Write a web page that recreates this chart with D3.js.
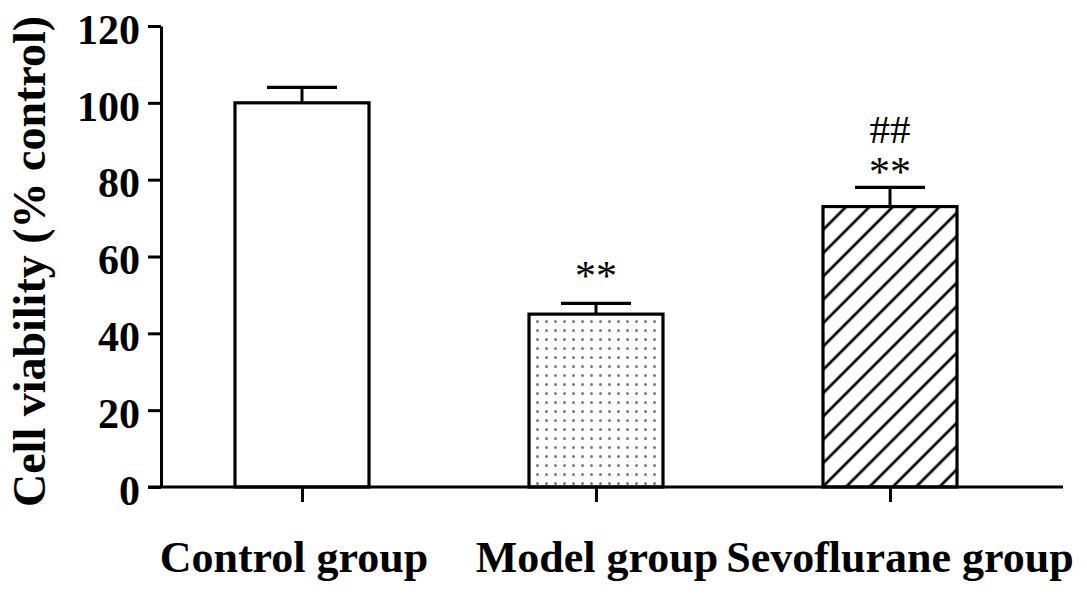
<!DOCTYPE html>
<html>
<head>
<meta charset="utf-8">
<script src="https://cdn.jsdelivr.net/npm/d3@7"></script>
<style>
  html, body { margin: 0; padding: 0; background: #fff; }
  svg { display: block; }
</style>
</head>
<body>
<svg id="chart" width="1087" height="594"></svg>
<script>
// ---- data ----
const categories = ["Control group", "Model group", "Sevoflurane group"];
const means = [100, 45, 73];
const errors = [4, 2.8, 5];
const starMarks = ["", "**", "**"];
const hashMarks = ["", "", "##"];
const starLevels = [null, 56.3, 83.6];
const hashLevels = [null, null, 93.2];
const yTicks = [0, 20, 40, 60, 80, 100, 120];
const yLabel = "Cell viability (% control)";

// ---- layout ----
const W = 1087, H = 594;
const axisX = 161, baseY = 487, topY = 26;
const xLeft = 148, xRight = 1063;
const barW = 134, capW = 70;
const serif = "'Liberation Serif', 'Times New Roman', serif";

const svg = d3.select("#chart");

const y = d3.scaleLinear().domain([0, 120]).range([baseY, topY]);
const x = d3.scalePoint().domain(categories).range([302, 890]);
const xLab = d3.scalePoint().domain(categories).range([294, 900]);

const defs = svg.append("defs");
// dotted pattern
const dots = defs.append("pattern")
  .attr("id", "dots").attr("patternUnits", "userSpaceOnUse")
  .attr("width", 9).attr("height", 9).attr("x", 2).attr("y", 2);
dots.append("circle").attr("cx", 4.5).attr("cy", 4.5).attr("r", 1.5).attr("fill", "#7a7a7a");
// hatch pattern
const hs = 16.5;
const hatch = defs.append("pattern")
  .attr("id", "hatch").attr("patternUnits", "userSpaceOnUse")
  .attr("width", hs).attr("height", hs)
  .attr("patternTransform", "rotate(45)");
hatch.append("line").attr("x1", 2).attr("y1", 0).attr("x2", 2).attr("y2", hs)
  .attr("stroke", "#000").attr("stroke-width", 2.7);

const fills = ["#fff", "url(#dots)", "url(#hatch)"];

// bars
const g = svg.append("g");
categories.forEach((c, i) => {
  const cx = x(c);
  // error bar
  g.append("line")
    .attr("x1", cx).attr("x2", cx)
    .attr("y1", y(means[i])).attr("y2", y(means[i] + errors[i]))
    .attr("stroke", "#000").attr("stroke-width", 3);
  g.append("line")
    .attr("x1", cx - capW / 2).attr("x2", cx + capW / 2)
    .attr("y1", y(means[i] + errors[i])).attr("y2", y(means[i] + errors[i]))
    .attr("stroke", "#000").attr("stroke-width", 3.2);
  g.append("rect")
    .attr("x", cx - barW / 2).attr("width", barW)
    .attr("y", y(means[i])).attr("height", y(0) - y(means[i]))
    .attr("fill", fills[i]).attr("stroke", "#000").attr("stroke-width", 3.2);
  if (starMarks[i]) {
    g.append("text").attr("x", cx).attr("y", y(starLevels[i]))
      .attr("dy", "0.47em")
      .attr("text-anchor", "middle").attr("font-family", serif)
      .attr("font-size", 42).attr("fill", "#000").text(starMarks[i]);
  }
  if (hashMarks[i]) {
    g.append("text").attr("x", cx).attr("y", y(hashLevels[i]))
      .attr("dy", "0.34em")
      .attr("text-anchor", "middle").attr("font-family", serif)
      .attr("font-size", 41).attr("fill", "#000").text(hashMarks[i]);
  }
});

// y axis
const yAxis = svg.append("g").attr("transform", `translate(${axisX},0)`)
  .call(d3.axisLeft(y).tickValues(yTicks).tickSize(13).tickPadding(8).tickSizeOuter(0));
yAxis.select(".domain").attr("stroke", "#000").attr("stroke-width", 3);
yAxis.selectAll(".tick line").attr("stroke", "#000").attr("stroke-width", 3);
yAxis.selectAll(".tick text")
  .attr("font-family", serif).attr("font-weight", "bold").attr("font-size", 42)
  .attr("fill", "#000").attr("dy", "0.41em");

// x axis (ticks from x, labels from xLab)
const xAxis = svg.append("g").attr("transform", `translate(0,${baseY})`)
  .call(d3.axisBottom(x).tickSize(15).tickSizeOuter(0).tickFormat(""));
xAxis.select(".domain").attr("d", `M${xLeft},0H${xRight}`)
  .attr("stroke", "#000").attr("stroke-width", 3);
xAxis.selectAll(".tick line").attr("stroke", "#000").attr("stroke-width", 3);

svg.append("g").selectAll("text").data(categories).join("text")
  .attr("x", d => xLab(d)).attr("y", baseY + 85)
  .attr("text-anchor", "middle")
  .attr("font-family", serif).attr("font-weight", "bold").attr("font-size", 44)
  .attr("fill", "#000").text(d => d);

// y label
svg.append("text")
  .attr("transform", `translate(45,${(13 + 510) / 2}) rotate(-90)`)
  .attr("text-anchor", "middle")
  .attr("font-family", serif).attr("font-weight", "bold").attr("font-size", 46)
  .attr("fill", "#000").text(yLabel);
</script>
</body>
</html>
